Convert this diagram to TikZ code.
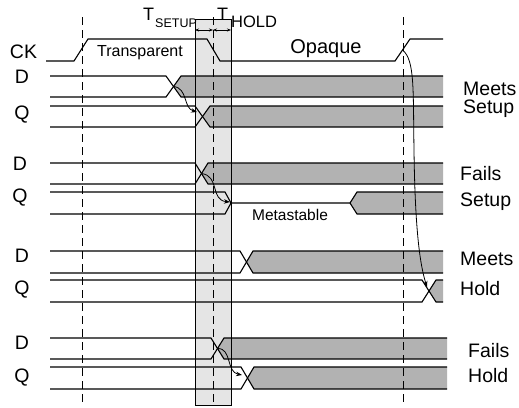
\documentclass[tikz,border=0pt]{standalone}
\usepackage{fontspec}
\setmainfont{Liberation Sans}
\usetikzlibrary{arrows.meta}
\tikzset{
  wave/.style={line width=1.1pt},
  busfill/.style={fill=black!30},
  lbl/.style={font=\fontsize{19.5}{22}\selectfont, inner sep=0pt, anchor=base},
  rlbl/.style={font=\fontsize{19.5}{22}\selectfont, inner sep=0pt, anchor=base west},
  slbl/.style={font=\fontsize{15.5}{18}\selectfont, inner sep=0pt, anchor=base},
  guide/.style={line width=1pt, dash pattern=on 8pt off 5pt},
  cause/.style={-{Stealth[length=6pt,width=4.5pt]}, line width=0.8pt},
  tarr/.style={{Stealth[length=4pt,width=3pt]}-{Stealth[length=4pt,width=3pt]}, line width=0.7pt},
  winfill/.style={fill=black!10},
}
\begin{document}
\begin{tikzpicture}[x=1pt,y=-1pt]
\useasboundingbox (0,0) rectangle (519,407);

% Setup/hold window
\fill[winfill] (195,19) rectangle (231,405);

% Bus fills
\fill[busfill] (173.5,86.5) -- (181,76) -- (443,76) -- (443,97) -- (181,97) -- cycle;
\fill[busfill] (202.5,116.5) -- (210,106) -- (443,106) -- (443,127) -- (210,127) -- cycle;
\fill[busfill] (201.5,173.5) -- (208,163) -- (443,163) -- (443,184) -- (208,184) -- cycle;
\fill[busfill] (350,203) -- (357,192) -- (443,192) -- (443,214) -- (357,214) -- cycle;
\fill[busfill] (246.5,262) -- (253,251) -- (443,251) -- (443,273) -- (253,273) -- cycle;
\fill[busfill] (429,291) -- (436,280) -- (443,280) -- (443,302) -- (436,302) -- cycle;
\fill[busfill] (217.5,348.5) -- (224,338) -- (447,338) -- (447,359) -- (224,359) -- cycle;
\fill[busfill] (247.5,378) -- (254,367) -- (447,367) -- (447,389) -- (254,389) -- cycle;

\draw[line width=1pt] (195,19) rectangle (231,405);

% Clock edges
\draw[guide] (82,17) -- (82,405);
\draw[guide] (213,17) -- (213,405);
\draw[guide] (403,17) -- (403,405);

% CK
\draw[wave] (46,61) -- (74,61) -- (88,39) -- (207,39) -- (220,61) -- (395,61) -- (410,39) -- (443,39);
\coordinate (ckr) at (402.5,50);

% Meets setup
\draw[wave] (50,76) -- (166,76) -- (181,97) -- (443,97);
\draw[wave] (50,97) -- (166,97) -- (181,76) -- (443,76);
\draw[wave] (50,106) -- (195,106) -- (210,127) -- (443,127);
\draw[wave] (50,127) -- (195,127) -- (210,106) -- (443,106);
\coordinate (d1x) at (173.5,86.5);
\coordinate (q1in) at (197,112);

% Fails setup
\draw[wave] (50,163) -- (195,163) -- (208,184) -- (443,184);
\draw[wave] (50,184) -- (195,184) -- (208,163) -- (443,163);
\draw[wave] (50,192) -- (225,192) -- (231,203) -- (350,203) -- (357,192) -- (443,192);
\draw[wave] (50,214) -- (225,214) -- (231,203);
\draw[wave] (350,203) -- (357,214) -- (443,214);
\coordinate (d2x) at (201.5,173.5);
\coordinate (q2in) at (230,202);

% Meets hold
\draw[wave] (50,251) -- (240,251) -- (253,273) -- (443,273);
\draw[wave] (50,273) -- (240,273) -- (253,251) -- (443,251);
\draw[wave] (50,280) -- (422,280) -- (436,302) -- (443,302);
\draw[wave] (50,302) -- (422,302) -- (436,280) -- (443,280);
\coordinate (q3in) at (427,287);

% Fails hold
\draw[wave] (50,338) -- (211,338) -- (224,359) -- (447,359);
\draw[wave] (50,359) -- (211,359) -- (224,338) -- (447,338);
\draw[wave] (50,367) -- (241,367) -- (254,389) -- (447,389);
\draw[wave] (50,389) -- (241,389) -- (254,367) -- (447,367);
\coordinate (d4x) at (217.5,348.5);
\coordinate (q4in) at (242,375);

% Causality arrows
\draw[cause] (d1x) .. controls (188,88) and (183,108) .. (q1in);
\draw[cause] (d2x) .. controls (220,176) and (210,200) .. (q2in);
\draw[cause] (ckr) .. controls (415,60) and (413,90) .. (414,150) .. controls (415,230) and (420,265) .. (q3in);
\draw[cause] (d4x) .. controls (232,348) and (226,372) .. (q4in);

% Setup and hold times
\coordinate (tsl) at (195,30);
\coordinate (tsm) at (213,30);
\coordinate (thr) at (231,30);
\draw[tarr] (tsl) -- (tsm);
\draw[tarr] (tsm) -- (thr);
\node[font=\fontsize{18}{20}\selectfont, inner sep=0pt, anchor=base west] (tset) at (143,20) {T};
\node[font=\fontsize{12.5}{14}\selectfont, inner sep=0pt, anchor=base west] (tsetsub) at (155,27) {SETUP};
\node[font=\fontsize{18}{20}\selectfont, inner sep=0pt, anchor=base west] (thold) at (217,20) {T};
\node[font=\fontsize{16.5}{18}\selectfont, inner sep=0pt, anchor=base west] (tholdsub) at (231,27) {HOLD};

% Labels
\node[lbl] (lck) at (23.5,58) {CK};
\node[lbl] (ld1) at (22,83) {D};
\node[lbl] (lq1) at (22,119) {Q};
\node[lbl] (ld2) at (20,170) {D};
\node[lbl] (lq2) at (20,202) {Q};
\node[lbl] (ld3) at (22,262) {D};
\node[lbl] (lq3) at (22,294) {Q};
\node[lbl] (ld4) at (22,349) {D};
\node[lbl] (lq4) at (22,382) {Q};
\node[slbl, font=\fontsize{16}{18}\selectfont] (ltr) at (140,56) {Transparent};
\node[lbl, font=\fontsize{20}{22}\selectfont] (lop) at (326,53) {Opaque};
\node[slbl] (lmeta) at (290,220) {Metastable};

\node[rlbl] (r1a) at (463,95) {Meets};
\node[rlbl] (r1b) at (463,113) {Setup};
\node[rlbl] (r2a) at (460,180) {Fails};
\node[rlbl] (r2b) at (460,206) {Setup};
\node[rlbl] (r3a) at (460,265) {Meets};
\node[rlbl] (r3b) at (460,295) {Hold};
\node[rlbl] (r4a) at (468,357) {Fails};
\node[rlbl] (r4b) at (468,382) {Hold};

\end{tikzpicture}
\end{document}
